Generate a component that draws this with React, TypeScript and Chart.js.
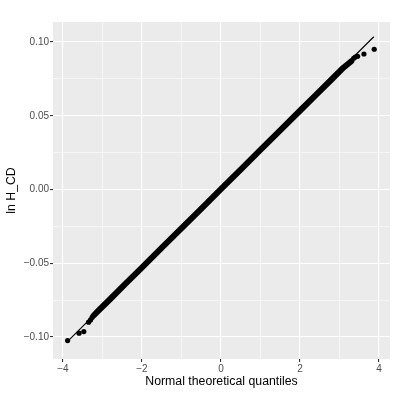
import React, { useEffect, useRef } from "react";
import { Chart, registerables } from "chart.js";
Chart.register(...registerables);

// Dense body of the QQ sample (read along the band of overlapping points)
const bandX = [-3.22, -3.1, -2.8, -2.4, -2.0, -1.5, -1.0, -0.5, 0, 0.5, 1.0, 1.5, 2.0, 2.4, 2.8, 3.1, 3.3];
const bandY = [-0.0855, -0.0822, -0.0743, -0.0636, -0.053, -0.0397, -0.0264, -0.0131, 0.0002, 0.0135, 0.0268, 0.0401, 0.0534, 0.064, 0.0746, 0.0826, 0.087];
// Individual tail points
const tailX = [-3.88, -3.59, -3.47, -3.35, -3.3, -3.26, 3.36, 3.4, 3.46, 3.62, 3.88];
const tailY = [-0.1025, -0.0975, -0.0964, -0.09, -0.0885, -0.0868, 0.089, 0.0898, 0.0903, 0.0919, 0.0951];
// QQ reference line end points
const lineX = [-3.88, 3.87];
const lineY = [-0.103, 0.1036];

const xTicks = [-4, -3, -2, -1, 0, 1, 2, 3, 4];
const xMajor = [-4, -2, 0, 2, 4];
const yTicks = [-0.1, -0.075, -0.05, -0.025, 0, 0.025, 0.05, 0.075, 0.1];
const yMajor = [-0.1, -0.05, 0, 0.05, 0.1];
const xTitle = "Normal theoretical quantiles";
const yTitle = "ln H_CD";

const FONT = "'Liberation Sans', Arial, Helvetica, sans-serif";
const isIn = (arr: number[], v: number) => arr.some((a) => Math.abs(a - v) < 1e-9);
const minus = (s: string) => s.replace("-", "\u2212");

export default function App() {
  const ref = useRef<HTMLCanvasElement | null>(null);
  useEffect(() => {
    if (!ref.current) return;
    const bgPlugin = {
      id: "panelBg",
      beforeDraw(chart: any) {
        const { ctx, chartArea, width, height } = chart;
        ctx.save();
        ctx.fillStyle = "#FFFFFF";
        ctx.fillRect(0, 0, width, height);
        ctx.fillStyle = "#EBEBEB";
        ctx.fillRect(chartArea.left, chartArea.top, chartArea.right - chartArea.left, chartArea.bottom - chartArea.top);
        ctx.restore();
      },
      afterDraw(chart: any) {
        const { ctx, chartArea } = chart;
        ctx.save();
        ctx.fillStyle = "#000000";
        ctx.font = `12.3px ${FONT}`;
        ctx.textAlign = "center";
        ctx.textBaseline = "middle";
        ctx.fillText(xTitle, (chartArea.left + chartArea.right) / 2, 382);
        ctx.translate(12, (chartArea.top + chartArea.bottom) / 2);
        ctx.rotate(-Math.PI / 2);
        ctx.fillText(yTitle, 0, 0);
        ctx.restore();
      },
    };
    const gridFor = (major: number[]) => ({
      color: "#FFFFFF",
      lineWidth: (c: any) => (c.tick && isIn(major, c.tick.value) ? 1.1 : 0.55),
      tickColor: (c: any) => (c.tick && isIn(major, c.tick.value) ? "#333333" : "rgba(0,0,0,0)"),
      tickWidth: 1.1,
      tickLength: 3,
      drawTicks: true,
      drawOnChartArea: true,
    });
    const chart = new Chart(ref.current, {
      type: "scatter",
      data: {
        datasets: [
          {
            data: lineX.map((x, i) => ({ x, y: lineY[i] })),
            showLine: true,
            borderColor: "#000000",
            borderWidth: 1.1,
            pointRadius: 0,
          },
          {
            data: bandX.map((x, i) => ({ x, y: bandY[i] })),
            showLine: true,
            borderColor: "#000000",
            borderWidth: 6,
            borderCapStyle: "round",
            borderJoinStyle: "round",
            pointRadius: 0,
          },
          {
            data: tailX.map((x, i) => ({ x, y: tailY[i] })),
            pointRadius: 2.6,
            backgroundColor: "#000000",
            borderWidth: 0,
          },
        ],
      } as any,
      options: {
        responsive: false,
        animation: false,
        layout: { padding: { top: 22, right: 21, left: 0, bottom: 0 } },
        plugins: { legend: { display: false }, tooltip: { enabled: false } },
        scales: {
          x: {
            type: "linear",
            min: -4.25,
            max: 4.28,
            afterBuildTicks: (s: any) => {
              s.ticks = xTicks.map((v) => ({ value: v }));
            },
            afterFit: (s: any) => {
              s.height = 36;
            },
            border: { display: false },
            grid: gridFor(xMajor) as any,
            ticks: {
              autoSkip: false,
              maxRotation: 0,
              padding: 1,
              color: "#4D4D4D",
              font: { size: 10, family: FONT },
              callback: (v: any) => (isIn(xMajor, Number(v)) ? minus(String(v)) : ""),
            },
          },
          y: {
            type: "linear",
            min: -0.115,
            max: 0.1136,
            afterBuildTicks: (s: any) => {
              s.ticks = yTicks.map((v) => ({ value: v }));
            },
            afterFit: (s: any) => {
              s.width = 53;
            },
            border: { display: false },
            grid: gridFor(yMajor) as any,
            ticks: {
              autoSkip: false,
              padding: 1,
              color: "#4D4D4D",
              font: { size: 10, family: FONT },
              callback: (v: any) => (isIn(yMajor, Number(v)) ? minus(Number(v).toFixed(2)) : ""),
            },
          },
        },
      },
      plugins: [bgPlugin],
    });
    return () => chart.destroy();
  }, []);
  return (
    <div style={{ position: "absolute", left: 0, top: 0, width: 411, height: 395 }}>
      <canvas ref={ref} width={411} height={395} style={{ width: 411, height: 395 }} />
    </div>
  );
}
